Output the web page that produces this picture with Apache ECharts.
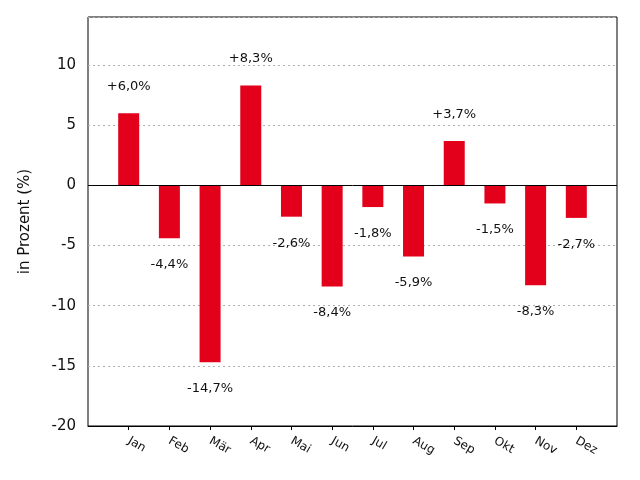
<!DOCTYPE html>
<html>
<head>
<meta charset="utf-8">
<script src="https://cdn.jsdelivr.net/npm/echarts@6/dist/echarts.min.js"></script>
<style>html,body{margin:0;padding:0;background:#fff}#c{width:640px;height:480px}</style>
</head>
<body>
<div id="c"></div>
<script>
const months = ['Jan','Feb','Mär','Apr','Mai','Jun','Jul','Aug','Sep','Okt','Nov','Dez'];
const values = [6.0,-4.4,-14.7,8.3,-2.6,-8.4,-1.8,-5.9,3.7,-1.5,-8.3,-2.7];
const yTicks = [-20,-15,-10,-5,0,5,10];

const categories = [''].concat(months, ['']);
const seriesData = [null].concat(values.map(v => ({
  value: v,
  label: { position: v >= 0 ? 'top' : 'bottom' }
})), [null]);

function fmt(v) {
  return (v > 0 ? '+' : '') + v.toFixed(1).replace('.', ',') + '%';
}

const chart = echarts.init(document.getElementById('c'));
chart.setOption({
  animation: false,
  textStyle: { fontFamily: 'DejaVu Sans' },
  grid: { left: 88, right: 23, top: 17, bottom: 54, show: true, borderColor: '#000', borderWidth: 1, containLabel: false },
  xAxis: {
    type: 'category',
    data: categories,
    boundaryGap: false,
    axisLine: { show: true, onZero: false, lineStyle: { color: '#000', width: 1 } },
    axisTick: { show: true, length: 4, lineStyle: { color: '#000' }, interval: (i, v) => v !== '' },
    axisLabel: { interval: 0, rotate: -30, margin: 14, fontSize: 12, color: '#111', fontFamily: 'DejaVu Sans' },
    splitLine: { show: false }
  },
  yAxis: {
    type: 'value',
    min: -20, max: 14, interval: 5,
    name: 'in Prozent (%)',
    nameLocation: 'middle',
    nameGap: 55,
    nameTextStyle: { fontSize: 15, color: '#111', fontFamily: 'DejaVu Sans' },
    axisLine: { show: false },
    axisTick: { show: false },
    axisLabel: { fontSize: 15, color: '#111', margin: 12, fontFamily: 'DejaVu Sans',
      formatter: v => yTicks.indexOf(v) >= 0 ? String(v) : '' },
    splitLine: { show: true, lineStyle: { color: '#b0b0b0', type: [2, 3], width: 1 } }
  },
  series: [{
    type: 'bar',
    data: seriesData,
    barWidth: 21,
    itemStyle: { color: '#e2001a' },
    label: { show: true, distance: 20, fontSize: 13, color: '#111', fontFamily: 'DejaVu Sans',
      formatter: p => fmt(p.value) },
    markLine: {
      silent: true, symbol: 'none',
      label: { show: false },
      lineStyle: { color: '#000', type: 'solid', width: 1 },
      data: [{ yAxis: 0 }]
    }
  }]
});
</script>
</body>
</html>
